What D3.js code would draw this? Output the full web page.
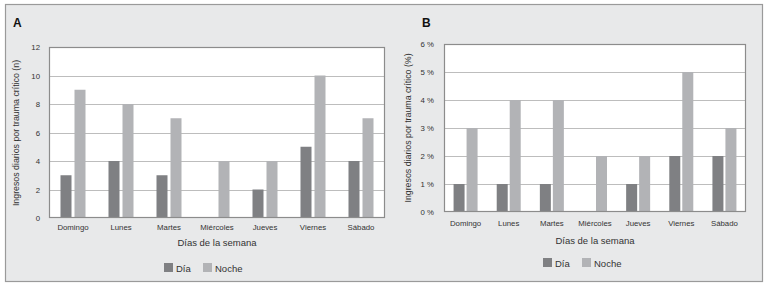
<!DOCTYPE html>
<html><head><meta charset="utf-8">
<script src="https://cdn.jsdelivr.net/npm/d3@7"></script>
<style>body{margin:0;background:#fff}svg{display:block}text{font-family:"Liberation Sans",Arial,sans-serif}</style>
</head><body>
<svg id="c" width="767" height="287"></svg>
<script>
const categories = ["Domingo","Lunes","Martes","Miércoles","Jueves","Viernes","Sábado"];
const series = ["Día","Noche"];
const diaN = [3,4,3,0,2,5,4];
const nocheN = [9,8,7,4,4,10,7];
const diaPct = [1,1,1,0,1,2,2];
const nochePct = [3,4,4,2,2,5,3];
const ticksN = [0,2,4,6,8,10,12];
const ticksPct = [0,1,2,3,4,5,6];
const colors = ["#7f8083","#b2b3b6"];

const svg = d3.select("#c");
svg.append("rect").attr("x",5.5).attr("y",4.5).attr("width",757).attr("height",277)
  .attr("fill","#e8e9ea").attr("stroke","#9a9a9a").attr("stroke-width",1.2);

function panel(o){
  const g = svg.append("g");
  const x = d3.scaleBand().domain(categories).range([o.left,o.right]);
  const y = d3.scaleLinear().domain([0,o.max]).range([o.bottom,o.top]);
  g.append("rect").attr("x",o.left).attr("y",o.top).attr("width",o.right-o.left).attr("height",o.bottom-o.top).attr("fill","#fff");
  g.selectAll("line.grid").data(o.ticks.slice(1,-1)).join("line")
    .attr("x1",o.left).attr("x2",o.right).attr("y1",d=>Math.round(y(d))+0.5).attr("y2",d=>Math.round(y(d))+0.5)
    .attr("stroke","#bdbdbd").attr("stroke-width",1.2);
  const data = [];
  categories.forEach((c,i)=>{ data.push({c,s:0,v:o.d1[i]}); data.push({c,s:1,v:o.d2[i]}); });
  const bw = o.bw, gap = o.gap;
  g.selectAll("rect.bar").data(data.filter(d=>d.v>0)).join("rect")
    .attr("x",d=>x(d.c)+x.bandwidth()/2 + (d.s===0 ? -gap/2-bw : gap/2))
    .attr("width",bw).attr("y",d=>y(d.v)).attr("height",d=>y(0)-y(d.v)).attr("fill",d=>colors[d.s]);
  g.append("rect").attr("x",o.left+0.5).attr("y",o.top+0.5).attr("width",o.right-o.left-1).attr("height",o.bottom-o.top-1)
    .attr("fill","none").attr("stroke","#8c8c8c").attr("stroke-width",1.2);
  const ya = d3.axisLeft(y).tickValues(o.ticks).tickSize(0).tickPadding(0).tickFormat(o.fmt);
  const yg = g.append("g").attr("transform",`translate(${o.ytickX},0)`).call(ya);
  yg.select(".domain").remove();
  yg.selectAll("text").attr("font-size",7.8).attr("fill","#333").attr("font-family","Liberation Sans, Arial, sans-serif");
  const xa = d3.axisBottom(x).tickSize(0).tickPadding(0);
  const xg = g.append("g").attr("transform",`translate(0,${o.xlabY})`).call(xa);
  xg.select(".domain").remove();
  xg.selectAll("text").attr("font-size",7.8).attr("fill","#333").attr("font-family","Liberation Sans, Arial, sans-serif").attr("dy","0");
  g.append("text").attr("x",(o.left+o.right)/2).attr("y",o.xtitleY).attr("text-anchor","middle")
    .attr("font-size",9.5).attr("fill","#333").text("Días de la semana");
  g.append("text").attr("transform",`translate(${o.ytitleX},${o.ytitleCY}) rotate(-90)`).attr("text-anchor","middle")
    .attr("font-size",8.8).attr("fill","#333").text(o.ytitle);
  g.append("text").attr("x",o.letterX).attr("y",27).attr("font-size",12).attr("font-weight","bold").attr("fill","#111").text(o.letter);
  const lg = g.append("g");
  series.forEach((s,i)=>{
    const lx = o.legX + i*39;
    lg.append("rect").attr("x",lx).attr("y",o.legY).attr("width",9).attr("height",9).attr("fill",colors[i]);
    lg.append("text").attr("x",lx+12).attr("y",o.legY+8.5).attr("font-size",9.5).attr("fill","#333").text(s);
  });
}

panel({left:49,right:385,top:47,bottom:218,max:12,ticks:ticksN,fmt:d=>d,d1:diaN,d2:nocheN,bw:11,gap:3,
  ytickX:40,xlabY:230,xtitleY:246,ytitleX:19,ytitleCY:133,ytitle:"Ingresos diarios por trauma crítico (n)",
  letter:"A",letterX:13,legX:164,legY:263});
panel({left:444,right:746,top:44,bottom:212,max:6,ticks:ticksPct,fmt:d=>d+" %",d1:diaPct,d2:nochePct,bw:11,gap:2,
  ytickX:434,xlabY:226,xtitleY:244,ytitleX:411,ytitleCY:128,ytitle:"Ingresos diarios por trauma crítico (%)",
  letter:"B",letterX:422,legX:543,legY:258});
</script>
</body></html>
